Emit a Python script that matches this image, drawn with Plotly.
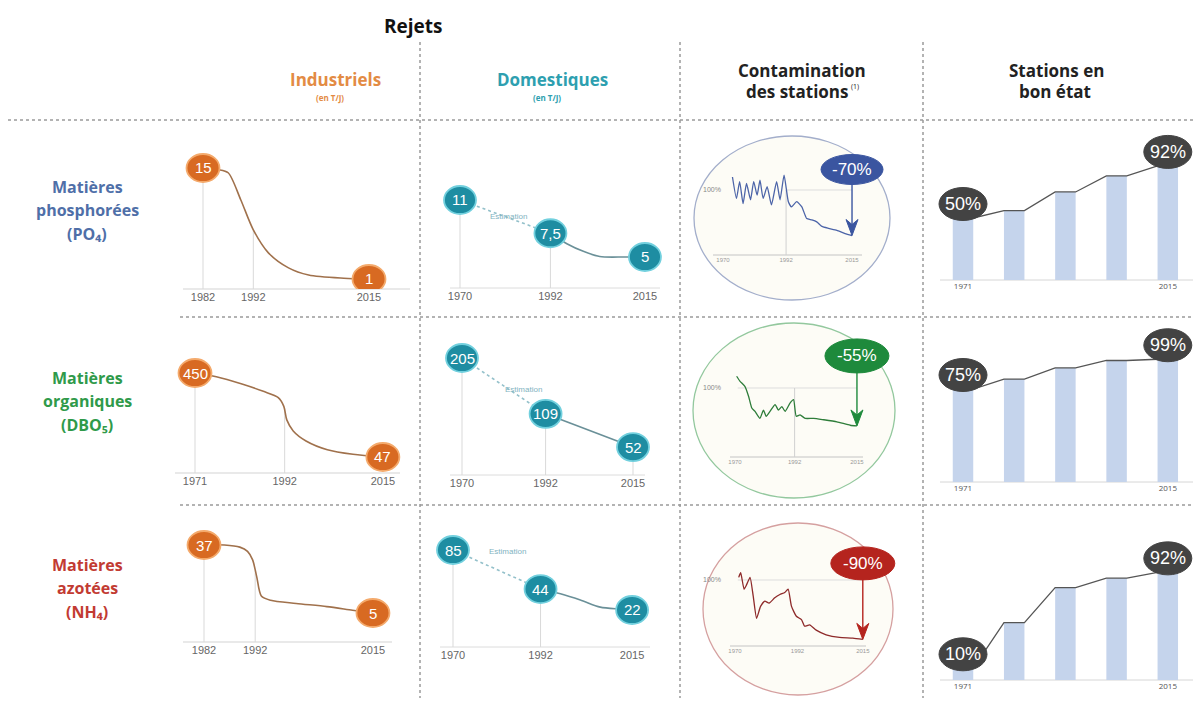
import numpy as np
import plotly.graph_objects as go

# The page adds an 8 px body margin, so the figure is drawn 16 px smaller and every
# position below is given in the coordinates of the 1201x706 window.
W, H = 1201, 706
OFF = 8
FW, FH = W - 2 * OFF, H - 2 * OFF

# ---------------- data ----------------
title_main = "Rejets"
row_names = [["Matières", "phosphorées", "(PO₄)"],
             ["Matières", "organiques", "(DBO₅)"],
             ["Matières", "azotées", "(NH₄)"]]

# Industriels (T/J)
ind_phos_years = [1982, 1985, 1987, 1989.5, 1992, 1995, 1999, 2003, 2010, 2015]
ind_phos_vals = [15, 14.8, 14.4, 11, 7.2, 4.3, 2.4, 1.5, 1.1, 1]
ind_org_years = [1971, 1976, 1982, 1987, 1990.5, 1991.8, 1992.5, 1994, 1997, 2002, 2008, 2015]
ind_org_vals = [450, 432, 397, 362, 332, 290, 225, 172, 124, 82, 60, 47]
ind_azo_years = [1982, 1986, 1989, 1990.5, 1991.5, 1992.3, 1993.2, 1995, 2000, 2006, 2011, 2015]
ind_azo_vals = [37, 37, 36, 34, 30, 22, 13, 11, 9.5, 8, 6.3, 5]
ind_ticks = [[1982, 1992, 2015], [1971, 1992, 2015], [1982, 1992, 2015]]

# Domestiques (T/J) : estimation (dotted) then measured
dom_phos_est_years = [1970, 1992]
dom_phos_est_vals = [11, 7.5]
dom_phos_years = [1992, 1996, 2000, 2004, 2010, 2015]
dom_phos_vals = [7.5, 6.4, 5.6, 5.05, 5, 5]
dom_org_est_years = [1970, 1992]
dom_org_est_vals = [205, 109]
dom_org_years = [1992, 2015]
dom_org_vals = [109, 52]
dom_azo_est_years = [1970, 1992]
dom_azo_est_vals = [85, 44]
dom_azo_years = [1992, 1997, 2002, 2007, 2012, 2015]
dom_azo_vals = [44, 39, 32.5, 25, 23, 22]
dom_ticks = [1970, 1992, 2015]

# Contamination des stations (% of initial level)
cont_phos_years = [1973.3, 1974.7, 1975.8, 1977, 1978.2, 1979.6, 1980.7, 1981.9, 1982.9, 1984,
                   1985.4, 1986.9, 1988.7, 1989.9, 1991.3, 1992.8, 1993.9, 1995.7, 1997.5, 1999.2,
                   2001, 2002.7, 2004.5, 2006.8, 2009.7, 2012.6, 2015]
cont_phos_vals = [120, 87, 113, 79, 110, 85, 113, 92, 115, 87,
                  105, 77, 113, 85, 123, 82, 74, 82, 74, 56,
                  54, 51, 44, 41, 38, 33, 30]
cont_org_years = [1970.6, 1971.8, 1973.7, 1975, 1976.2, 1977.4, 1979.2, 1980.5, 1981.5, 1982.9,
                  1984.8, 1986, 1987.3, 1988.5, 1990.3, 1991.6, 1992.6, 1994, 1995.9, 1999,
                  2002.7, 2007.6, 2012.5, 2015]
cont_org_vals = [117, 110, 102, 88, 71, 66, 56, 68, 59, 66,
                 76, 68, 73, 66, 78, 83, 59, 61, 56, 56,
                 54, 51, 46, 45]
cont_azo_years = [1971.3, 1972, 1973.2, 1974.1, 1975.3, 1976.4, 1977.6, 1979, 1980.5, 1982,
                  1984, 1985.8, 1987.5, 1988.7, 1989.9, 1991.6, 1993.4, 1994.5, 1996.3, 1998.6,
                  2002.1, 2006.8, 2011.5, 2015]
cont_azo_vals = [104, 111, 86, 93, 104, 76, 42, 60, 68, 65,
                 73, 78, 81, 86, 60, 45, 40, 30, 32, 24,
                 17, 13, 12, 10]
cont_changes = ["-70%", "-55%", "-90%"]
cont_ticks = [1970, 1992, 2015]

# Stations en bon état (%)
stations_labels = ["1971", "", "", "", "2015"]
stations_phos = [50, 56, 71, 84, 92]
stations_org = [75, 83, 92, 98, 99]
stations_azo = [10, 49, 79, 87, 92]

# ---------------- helpers ----------------
def px(x):
    return (x - OFF) / FW


def py(y):
    return 1 - (y - OFF) / FH


def clamp(v):
    return min(1.0, max(0.0, v))


NARROW = "Liberation Sans Narrow, Arial Narrow, Liberation Sans, Arial, sans-serif"
BOLD = "Open Sans, DejaVu Sans, Liberation Sans, Arial, sans-serif"

fig = go.Figure()
axes = {}
shapes = []
annotations = []


def add_axes(n, xdom, ydom, xcal, ycal):
    """xcal/ycal = (pixel, value, pixels per unit) calibration of the scale."""
    xk = "xaxis" if n == 1 else f"xaxis{n}"
    yk = "yaxis" if n == 1 else f"yaxis{n}"
    xr = "x" if n == 1 else f"x{n}"
    yr = "y" if n == 1 else f"y{n}"
    xrange = [xcal[1] + (xdom[0] - xcal[0]) / xcal[2], xcal[1] + (xdom[1] - xcal[0]) / xcal[2]]
    yrange = [ycal[1] + (ycal[0] - ydom[1]) / ycal[2], ycal[1] + (ycal[0] - ydom[0]) / ycal[2]]
    axes[xk] = dict(domain=[clamp(px(xdom[0])), clamp(px(xdom[1]))], range=xrange, anchor=yr,
                    showgrid=False, zeroline=False, fixedrange=True, ticks="", showline=False)
    axes[yk] = dict(domain=[clamp(py(ydom[1])), clamp(py(ydom[0]))], range=yrange, anchor=xr,
                    visible=False, fixedrange=True, zeroline=False, showgrid=False)
    return xr, yr, xk, yk, yrange


def baseline(x0, x1, y, color="#d3d3d3"):
    shapes.append(dict(type="line", xref="paper", yref="paper", x0=px(x0), x1=px(x1),
                       y0=py(y), y1=py(y), line=dict(color=color, width=1), layer="below"))


def ellipse(xr, yr, x, y, w, h, fill, line, lw=1.8, dy=0):
    shapes.append(dict(type="circle", xref=xr, yref=yr, xsizemode="pixel", ysizemode="pixel",
                       xanchor=x, yanchor=y, x0=-w / 2, x1=w / 2, y0=dy - h / 2, y1=dy + h / 2,
                       fillcolor=fill, line=dict(color=line, width=lw), layer="above"))


def fmt(v):
    return str(v).replace(".", ",") if v != int(v) else str(int(v))


def label(xr, yr, x, y, text, size=14, dy=0, family=NARROW, color="white"):
    annotations.append(dict(xref=xr, yref=yr, x=x, y=y, text=text, showarrow=False, yshift=dy,
                            font=dict(family=family, size=size, color=color)))


def vgrid(xr, yr, x, y0, y1, color="#d9d9d9"):
    shapes.append(dict(type="line", xref=xr, yref=yr, x0=x, x1=x, y0=y0, y1=y1,
                       line=dict(color=color, width=1), layer="below"))


ORANGE = "#D86A22"
ORANGE_L = "#F4AA6C"
TEAL = "#1E8DA2"
TEAL_L = "#72D0DE"
IND_LINE = "#A0714C"
DOM_LINE = "#6A9098"
DOM_EST = "#93C0CA"

# ---------------- Industriels ----------------
ind_specs = [
    (1, [165, 420], [130, 289], (203, 1982, 5.03), (279, 1, 7.93), (183, 410),
     ind_phos_years, ind_phos_vals),
    (5, [160, 410], [330, 473], (195, 1971, 4.27), (373, 450, 0.2084), (175, 400),
     ind_org_years, ind_org_vals),
    (9, [165, 410], [505, 642], (204, 1982, 5.12), (545, 37, 2.125), (183, 392),
     ind_azo_years, ind_azo_vals),
]
for k, (n, xd, yd, xc, yc, bl, yrs, vals) in enumerate(ind_specs):
    xr, yr, xk, yk, yrg = add_axes(n, xd, yd, xc, yc)
    axes[xk].update(tickvals=ind_ticks[k], ticktext=[str(t) for t in ind_ticks[k]],
                    tickfont=dict(family=NARROW, size=11, color="#666"))
    baseline(bl[0], bl[1], yd[1])
    fig.add_trace(go.Scatter(x=yrs, y=vals, xaxis=xr, yaxis=yr, mode="lines",
                             line=dict(color=IND_LINE, width=1.6, shape="spline", smoothing=0.8),
                             hoverinfo="skip", showlegend=False))
    for t in ind_ticks[k][:2]:
        vgrid(xr, yr, t, yrg[0], float(np.interp(t, yrs, vals)))
    for x, v in [(yrs[0], vals[0]), (yrs[-1], vals[-1])]:
        ellipse(xr, yr, x, v, 33, 28, ORANGE, ORANGE_L)
        label(xr, yr, x, v, fmt(v), size=15)

# ---------------- Domestiques ----------------
dom_specs = [
    (2, [430, 675], [150, 288], (460, 1970, 4.11), (200, 11, 9.5), (450, 660),
     dom_phos_est_years, dom_phos_est_vals, dom_phos_years, dom_phos_vals, (508, 210), False),
    (6, [430, 670], [325, 475], (462, 1970, 3.8), (358, 205, 0.582), (450, 645),
     dom_org_est_years, dom_org_est_vals, dom_org_years, dom_org_vals, (523, 390), True),
    (10, [425, 670], [515, 647], (453, 1970, 3.98), (550, 85, 0.952), (440, 650),
     dom_azo_est_years, dom_azo_est_vals, dom_azo_years, dom_azo_vals, (507, 558), False),
]
for (n, xd, yd, xc, yc, bl, ey, ev, my, mv, est_pos, grid2015) in dom_specs:
    xr, yr, xk, yk, yrg = add_axes(n, xd, yd, xc, yc)
    axes[xk].update(tickvals=dom_ticks, ticktext=[str(t) for t in dom_ticks],
                    tickfont=dict(family=NARROW, size=11, color="#666"))
    baseline(bl[0], bl[1], yd[1], color="#dcdcdc")
    fig.add_trace(go.Scatter(x=ey, y=ev, xaxis=xr, yaxis=yr, mode="lines",
                             line=dict(color=DOM_EST, width=1.6, dash="dot"),
                             hoverinfo="skip", showlegend=False))
    fig.add_trace(go.Scatter(x=my, y=mv, xaxis=xr, yaxis=yr, mode="lines",
                             line=dict(color=DOM_LINE, width=1.6, shape="spline", smoothing=0.8),
                             hoverinfo="skip", showlegend=False))
    vgrid(xr, yr, ey[0], yrg[0], ev[0])
    vgrid(xr, yr, ey[1], yrg[0], ev[1])
    if grid2015:
        vgrid(xr, yr, my[-1], yrg[0], mv[-1])
    for x, v in [(ey[0], ev[0]), (my[0], mv[0]), (my[-1], mv[-1])]:
        ellipse(xr, yr, x, v, 32, 28, TEAL, TEAL_L)
        label(xr, yr, x, v, fmt(v), size=15)
    annotations.append(dict(xref="paper", yref="paper", x=px(est_pos[0]), y=py(est_pos[1]),
                            text="Estimation", showarrow=False,
                            font=dict(family=NARROW, size=8, color="#7FB3BF")))

# ---------------- Contamination ----------------
cont_specs = [
    (3, [700, 900], [135, 255], (723, 1970, 2.867), (255, 0, 0.65), (713, 862),
     cont_phos_years, cont_phos_vals, "#4C64A8", "#3A55A0", (694, 890, 136, 300), "#A3AECB",
     66, 62, 30, True, 1992),
    (7, [700, 905], [325, 457], (735, 1970, 2.71), (457, 0, 0.69), (730, 863),
     cont_org_years, cont_org_vals, "#2E7D3A", "#1E8A3C", (693, 895, 323, 498), "#93C89E",
     70, 64, 34, True, 1971),
    (11, [700, 905], [520, 646], (735, 1970, 2.84), (646, 0, 0.66), (730, 866),
     cont_azo_years, cont_azo_vals, "#8E2A2A", "#B5241E", (703, 893, 523, 695), "#D5A0A0",
     76, 64, 33, False, 1971),
]
for k, (n, xd, yd, xc, yc, bl, yrs, vals, lc, bc, ell, ellc, off, bw, bh, g92, ref0) in \
        enumerate(cont_specs):
    shapes.append(dict(type="circle", xref="paper", yref="paper",
                       x0=px(ell[0]), x1=px(ell[1]), y0=py(ell[3]), y1=py(ell[2]),
                       fillcolor="#FDFCF6", line=dict(color=ellc, width=1.3), layer="below"))
    xr, yr, xk, yk, yrg = add_axes(n, xd, yd, xc, yc)
    axes[xk].update(tickvals=cont_ticks, ticktext=[str(t) for t in cont_ticks],
                    tickfont=dict(family=NARROW, size=6, color="#999"))
    axes[yk].update(visible=True, showline=False, showgrid=False,
                    tickvals=[100], ticktext=["100%"], ticks="", ticklabelposition="inside",
                    tickfont=dict(family=NARROW, size=7, color="#888"))
    baseline(bl[0], bl[1], yd[1], color="#c4c4c4")
    shapes.append(dict(type="line", xref=xr, yref=yr, x0=ref0, x1=cont_ticks[-1], y0=100, y1=100,
                       line=dict(color="#dddddd", width=1), layer="below"))
    if g92:
        vgrid(xr, yr, 1992, 0, 100, color="#d0d0d0")
    fig.add_trace(go.Scatter(x=yrs, y=vals, xaxis=xr, yaxis=yr, mode="lines",
                             line=dict(color=lc, width=1.3, shape="spline", smoothing=0.5),
                             hoverinfo="skip", showlegend=False))
    ex, ev = yrs[-1], vals[-1]
    # arrow from badge down to last point (pixel path anchored on the last point)
    shapes.append(dict(type="path", xref=xr, yref=yr, xsizemode="pixel", ysizemode="pixel",
                       xanchor=ex, yanchor=ev, path=f"M 0,10 L 0,{off - bh / 2}",
                       line=dict(color=bc, width=1.4), layer="above"))
    shapes.append(dict(type="path", xref=xr, yref=yr, xsizemode="pixel", ysizemode="pixel",
                       xanchor=ex, yanchor=ev, path="M 0,0 L -6,16 L 0,11 L 6,16 Z",
                       fillcolor=bc, line=dict(color=bc, width=1), layer="above"))
    ellipse(xr, yr, ex, ev, bw, bh, bc, bc, lw=1, dy=off)
    label(xr, yr, ex, ev, cont_changes[k], size=17, dy=off)

# ---------------- Stations en bon état ----------------
st_specs = [
    (4, [930, 1193], [120, 280], (963, 0, 51.2), (280, 0, 1.24), stations_phos),
    (8, [930, 1193], [320, 482], (963, 0, 51.2), (482, 0, 1.24), stations_org),
    (12, [930, 1193], [515, 680], (963, 0, 51.2), (680, 0, 1.17), stations_azo),
]
idx = list(range(len(stations_labels)))
tick_idx = [i for i in idx if stations_labels[i]]
for (n, xd, yd, xc, yc, vals) in st_specs:
    xr, yr, xk, yk, yrg = add_axes(n, xd, yd, xc, yc)
    axes[xk].update(tickvals=tick_idx, ticktext=[stations_labels[i] for i in tick_idx],
                    tickfont=dict(family=BOLD, size=8, color="#555"))
    baseline(940, 1197, yd[1], color="#d6d6d6")
    fig.add_trace(go.Bar(x=idx, y=vals, xaxis=xr, yaxis=yr, width=0.4,
                         marker=dict(color="#C5D4EC", line=dict(width=0)),
                         hoverinfo="skip", showlegend=False))
    lx, ly = [], []
    for i, v in zip(idx, vals):
        lx += [i - 0.2, i + 0.2]
        ly += [v, v]
    fig.add_trace(go.Scatter(x=lx, y=ly, xaxis=xr, yaxis=yr, mode="lines",
                             line=dict(color="#555555", width=1.3),
                             hoverinfo="skip", showlegend=False))
    for i in (idx[0], idx[-1]):
        ellipse(xr, yr, i, vals[i], 48, 33, "#434343", "#434343", lw=1, dy=14)
        label(xr, yr, i, vals[i], f"{vals[i]}%", size=18, dy=14,
              family="Liberation Sans, Arial, sans-serif")

# ---------------- headers, row labels, separators ----------------
def ptext(x, y, text, size, color, family=BOLD):
    annotations.append(dict(xref="paper", yref="paper", x=px(x), y=py(y), text=text,
                            showarrow=False, xanchor="center", yanchor="middle",
                            font=dict(family=family, size=size, color=color)))


ptext(413, 26, "<b>" + title_main + "</b>", 19, "#111")
ptext(335, 80, "<b>Industriels</b>", 17, "#E38B44")
ptext(330, 98, "<b>(en T/J)</b>", 8, "#E38B44")
ptext(552, 80, "<b>Domestiques</b>", 17, "#2E9FB0")
ptext(547, 98, "<b>(en T/J)</b>", 8, "#2E9FB0")
ptext(802, 70, "<b>Contamination</b>", 17, "#222")
ptext(797, 92, "<b>des stations</b>", 17, "#222")
ptext(855, 86, "(1)", 7, "#222")
ptext(1056, 70, "<b>Stations en</b>", 17, "#222")
ptext(1055, 91, "<b>bon état</b>", 17, "#222")

row_colors = ["#4F6FA8", "#2F9A4A", "#C23B32"]
row_ys = [[187, 210, 234], [378, 401, 425], [565, 588, 612]]
for names, col, ys in zip(row_names, row_colors, row_ys):
    for t, yy in zip(names, ys):
        ptext(87, yy, "<b>" + t + "</b>", 16, col)

DOT = dict(color="#9a9a9a", width=1.5, dash="dot")
for (x0, y0, x1, y1) in [(8, 120, 1193, 120), (180, 317, 1193, 317), (180, 505, 1193, 505),
                         (420, 42, 420, 698), (680, 42, 680, 698), (923, 42, 923, 698)]:
    shapes.append(dict(type="line", xref="paper", yref="paper", x0=px(x0), x1=px(x1),
                       y0=py(y0), y1=py(y1), line=DOT, layer="below"))

fig.update_layout(width=FW, height=FH, margin=dict(l=0, r=0, t=0, b=0),
                  paper_bgcolor="white", plot_bgcolor="rgba(0,0,0,0)",
                  shapes=shapes, annotations=annotations, showlegend=False,
                  font=dict(family=BOLD), **axes)
fig.write_html("out.html")
